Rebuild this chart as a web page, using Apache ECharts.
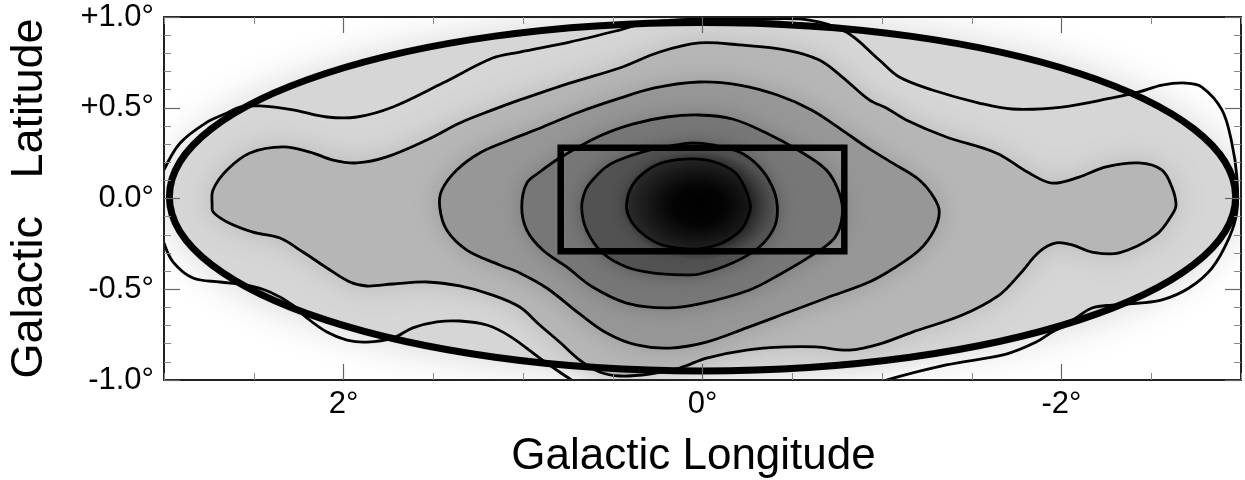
<!DOCTYPE html>
<html><head><meta charset="utf-8">
<script src="https://cdn.jsdelivr.net/npm/echarts@6/dist/echarts.min.js"></script>
<style>html,body{margin:0;padding:0;background:#fff}#chart{width:1245px;height:480px}</style>
</head><body><div id="chart"></div>
<script>
// ---------------- DATA (galactic longitude l, latitude b, degrees) ----------------
const xRange = [-3, 3];
const yRange = [-1, 1];
const xMajorTicks = [2, 0, -2];
const xTickLabels = ['2°', '0°', '-2°'];
const yMajorTicks = [1, 0.5, 0, -0.5, -1];
const yTickLabels = ['+1.0°', '+0.5°', '0.0°', '-0.5°', '-1.0°'];

const ellipseCenter = [0.0, 0.01];
const ellipseRadii = [2.97, 0.96];
const boxLon = [0.79, -0.79];
const boxLat = [0.28, -0.29];
const peakCenter = [0.02, -0.04];

const contour1 = [[0.423,-0.036],[0.390,0.074],[0.306,0.157],[0.211,0.201],[0.056,0.218],[-0.067,0.201],[-0.178,0.146],[-0.234,0.063],[-0.267,-0.047],[-0.234,-0.146],[-0.189,-0.196],[-0.095,-0.251],[0.017,-0.278],[0.128,-0.273],[0.239,-0.251],[0.339,-0.190],[0.401,-0.118]];
const contour2 = [[0.673,-0.047],[0.651,0.047],[0.612,0.102],[0.545,0.168],[0.479,0.207],[0.312,0.262],[0.145,0.295],[0.056,0.306],[-0.056,0.295],[-0.206,0.256],[-0.317,0.174],[-0.390,0.063],[-0.417,-0.047],[-0.401,-0.157],[-0.317,-0.267],[-0.167,-0.355],[0.017,-0.416],[0.111,-0.421],[0.278,-0.410],[0.423,-0.377],[0.556,-0.300],[0.646,-0.174]];
const contour3 = [[1.007,-0.047],[0.979,0.085],[0.907,0.146],[0.796,0.223],[0.573,0.344],[0.390,0.410],[0.200,0.449],[0.017,0.460],[-0.167,0.438],[-0.356,0.361],[-0.540,0.262],[-0.690,0.157],[-0.762,0.030],[-0.779,-0.091],[-0.735,-0.218],[-0.595,-0.322],[-0.445,-0.410],[-0.262,-0.504],[0.017,-0.581],[0.200,-0.603],[0.423,-0.576],[0.612,-0.488],[0.757,-0.377],[0.890,-0.284],[0.979,-0.174]];
const contour4 = [[1.464,-0.047],[1.452,0.047],[1.369,0.157],[1.241,0.251],[1.074,0.322],[0.890,0.394],[0.701,0.471],[0.490,0.543],[0.267,0.609],[0.017,0.642],[-0.206,0.625],[-0.417,0.570],[-0.607,0.488],[-0.762,0.388],[-0.913,0.284],[-1.057,0.196],[-1.208,0.102],[-1.291,0.003],[-1.319,-0.074],[-1.291,-0.174],[-1.208,-0.284],[-1.068,-0.383],[-0.929,-0.460],[-0.690,-0.548],[-0.467,-0.631],[-0.245,-0.713],[-0.022,-0.791],[0.184,-0.824],[0.367,-0.807],[0.534,-0.741],[0.684,-0.636],[0.868,-0.493],[1.018,-0.410],[1.130,-0.366],[1.313,-0.284],[1.425,-0.174]];
const contour5 = [[2.732,-0.036],[2.727,0.047],[2.649,0.157],[2.521,0.251],[2.337,0.284],[2.187,0.256],[2.059,0.212],[1.925,0.196],[1.759,0.229],[1.536,0.322],[1.352,0.416],[1.169,0.488],[1.018,0.543],[0.740,0.636],[0.462,0.719],[0.239,0.807],[0.017,0.857],[-0.206,0.846],[-0.467,0.818],[-0.651,0.763],[-0.779,0.669],[-0.929,0.543],[-1.024,0.499],[-1.135,0.433],[-1.358,0.339],[-1.636,0.251],[-1.820,0.140],[-1.948,0.085],[-2.098,0.118],[-2.248,0.174],[-2.432,0.196],[-2.560,0.157],[-2.615,0.063],[-2.638,-0.036],[-2.615,-0.091],[-2.526,-0.201],[-2.321,-0.300],[-2.170,-0.295],[-2.059,-0.256],[-1.970,-0.245],[-1.875,-0.295],[-1.764,-0.421],[-1.653,-0.532],[-1.447,-0.642],[-1.169,-0.736],[-0.985,-0.802],[-0.818,-0.835],[-0.634,-0.818],[-0.467,-0.818],[-0.245,-0.835],[-0.022,-0.879],[0.128,-0.934],[0.295,-0.967],[0.462,-0.978],[0.573,-0.956],[0.684,-0.890],[0.796,-0.791],[0.907,-0.697],[1.018,-0.598],[1.169,-0.532],[1.352,-0.482],[1.536,-0.460],[1.725,-0.471],[1.870,-0.482],[1.964,-0.460],[2.092,-0.383],[2.226,-0.295],[2.354,-0.218],[2.504,-0.185],[2.649,-0.129],[2.727,-0.074]];
const contour6a = [[3.0,0.157],[2.910,0.306],[2.760,0.421],[2.649,0.471],[2.577,0.504],[2.465,0.510],[2.282,0.488],[2.092,0.449],[1.925,0.449],[1.725,0.504],[1.447,0.636],[1.169,0.774],[1.018,0.807],[0.740,0.862],[0.462,0.928],[0.295,0.972],[0.017,0.989],[-0.317,0.989],[-0.595,0.983],[-0.801,0.917],[-0.985,0.763],[-1.096,0.669],[-1.280,0.598],[-1.541,0.526],[-1.725,0.493],[-2.003,0.504],[-2.282,0.554],[-2.432,0.587],[-2.560,0.625],[-2.693,0.636],[-2.782,0.614],[-2.894,0.488],[-2.949,0.306],[-2.977,0.118],[-2.977,-0.074],[-2.933,-0.218],[-2.838,-0.383],[-2.710,-0.493],[-2.560,-0.559],[-2.432,-0.576],[-2.282,-0.587],[-2.170,-0.603],[-2.081,-0.658],[-2.026,-0.697],[-1.948,-0.736],[-1.859,-0.791],[-1.692,-0.857],[-1.358,-0.917],[-1.024,-1.0]];
const contour6b = [[3.0,-0.245],[2.949,-0.350],[2.838,-0.438],[2.688,-0.460],[2.538,-0.477],[2.410,-0.515],[2.282,-0.587],[2.204,-0.658],[2.092,-0.736],[1.981,-0.780],[1.870,-0.791],[1.725,-0.769],[1.614,-0.713],[1.480,-0.680],[1.352,-0.675],[1.202,-0.697],[1.074,-0.758],[0.907,-0.879],[0.796,-0.956],[0.729,-1.0]];

// ---------------- STYLE ----------------
const FONT = '"Liberation Sans", Arial, Helvetica, sans-serif';
const SMOOTH = 0.35;

const chart = echarts.init(document.getElementById('chart'), null, {renderer: 'canvas'});

function base(z, firstPoint) {
  return {type: 'custom', coordinateSystem: 'cartesian2d', xAxisIndex: 0, yAxisIndex: 0,
          clip: true, silent: true, animation: false, z: z, data: [firstPoint]};
}
function pathLayer(points, closed, style, z) {
  const s = base(z, points[0]);
  s.renderItem = function (params, api) {
    return {type: closed ? 'polygon' : 'polyline',
            shape: {points: points.map(p => api.coord(p)), smooth: SMOOTH},
            style: style};
  };
  return s;
}
function ellipseLayer(center, radii, style, z) {
  const s = base(z, center);
  s.renderItem = function (params, api) {
    const c = api.coord(center);
    const sz = api.size([radii[0], radii[1]]);
    return {type: 'ellipse', shape: {cx: c[0], cy: c[1], rx: sz[0], ry: sz[1]}, style: style};
  };
  return s;
}
// elliptical radial glow: circle with radial gradient, stretched horizontally
function glowLayer(center, radii, stops, z) {
  const s = base(z, center);
  s.renderItem = function (params, api) {
    const c = api.coord(center);
    const sz = api.size([radii[0], radii[1]]);
    return {type: 'circle', x: c[0], y: c[1], scaleX: sz[0] / sz[1], scaleY: 1,
            shape: {cx: 0, cy: 0, r: sz[1]},
            style: {fill: new echarts.graphic.RadialGradient(0.5, 0.5, 0.5, stops)}};
  };
  return s;
}
function boxLayer(style, z) {
  const s = base(z, [boxLon[0], boxLat[0]]);
  s.renderItem = function (params, api) {
    const a = api.coord([boxLon[0], boxLat[0]]);
    const b = api.coord([boxLon[1], boxLat[1]]);
    return {type: 'rect', shape: {x: Math.min(a[0], b[0]), y: Math.min(a[1], b[1]),
            width: Math.abs(b[0] - a[0]), height: Math.abs(b[1] - a[1])}, style: style};
  };
  return s;
}

const fillLevels = [
  [contour5, '#b6b6b6', 30],
  [contour4, '#979797', 26],
  [contour3, '#777777', 22],
  [contour2, '#525252', 18],
  [contour1, '#2e2e2e', 16]
];

const series = [];
series.push(ellipseLayer(ellipseCenter, ellipseRadii, {fill: '#d6d6d6', shadowBlur: 44, shadowColor: '#cfcfcf'}, 1));
fillLevels.forEach((f, i) => {
  series.push(pathLayer(f[0], true, {fill: f[1], shadowBlur: f[2], shadowColor: f[1]}, 2 + i));
});
series.push(glowLayer(peakCenter, [0.42, 0.3], [
  {offset: 0, color: 'rgba(0,0,0,1)'},
  {offset: 0.35, color: 'rgba(0,0,0,0.92)'},
  {offset: 0.7, color: 'rgba(0,0,0,0.45)'},
  {offset: 1, color: 'rgba(0,0,0,0)'}
], 8));
const lineStyle = {fill: 'none', stroke: '#000', lineWidth: 2.8};
[contour1, contour2, contour3, contour4, contour5].forEach(c => series.push(pathLayer(c, true, lineStyle, 9)));
series.push(pathLayer(contour6a, false, lineStyle, 9));
series.push(pathLayer(contour6b, false, lineStyle, 9));
series.push(ellipseLayer(ellipseCenter, ellipseRadii, {fill: 'none', stroke: '#000', lineWidth: 7}, 10));
series.push(boxLayer({fill: 'none', stroke: '#000', lineWidth: 6.5}, 10));

const frame = {color: '#222', width: 2};
const minorTickStyle = {color: '#888', width: 1};
const majorTickStyle = {color: '#666', width: 1.2};
const labelStyle = {color: '#000', fontFamily: FONT, fontSize: 31};

function xLabel(v) { const i = xMajorTicks.indexOf(v); return i >= 0 ? xTickLabels[i] : ''; }
function yLabel(v) { const i = yMajorTicks.findIndex(t => Math.abs(t - v) < 1e-9); return i >= 0 ? yTickLabels[i] : ''; }

const gridBox = {left: 164, right: 4, top: 17, bottom: 100, containLabel: false, outerBoundsMode: 'none'};
const option = {
  animation: false,
  backgroundColor: '#fff',
  grid: [Object.assign({}, gridBox), Object.assign({}, gridBox)],
  xAxis: [
    {gridIndex: 0, type: 'value', position: 'bottom', min: xRange[0], max: xRange[1], inverse: true, interval: 0.5,
     axisLine: {show: true, onZero: false, lineStyle: frame},
     axisTick: {show: true, inside: true, length: 7, lineStyle: minorTickStyle},
     axisLabel: Object.assign({show: true, customValues: xMajorTicks, formatter: xLabel, margin: 9}, labelStyle),
     splitLine: {show: false},
     name: 'Galactic Longitude', nameLocation: 'middle', nameGap: 55,
     nameTextStyle: {color: '#000', fontFamily: FONT, fontSize: 44, padding: [0, 18, 0, 0]}, z: 20},
    {gridIndex: 0, type: 'value', position: 'top', min: xRange[0], max: xRange[1], inverse: true, interval: 0.5,
     axisLine: {show: true, onZero: false, lineStyle: frame},
     axisTick: {show: true, inside: true, length: 7, lineStyle: minorTickStyle},
     axisLabel: {show: false}, splitLine: {show: false}, z: 20},
    {gridIndex: 1, type: 'value', position: 'bottom', min: xRange[0], max: xRange[1], inverse: true,
     axisLine: {show: false, onZero: false},
     axisTick: {show: true, inside: true, length: 16, customValues: xMajorTicks, lineStyle: majorTickStyle},
     axisLabel: {show: false}, splitLine: {show: false}, z: 20},
    {gridIndex: 1, type: 'value', position: 'top', min: xRange[0], max: xRange[1], inverse: true,
     axisLine: {show: false, onZero: false},
     axisTick: {show: true, inside: true, length: 16, customValues: xMajorTicks, lineStyle: majorTickStyle},
     axisLabel: {show: false}, splitLine: {show: false}, z: 20}
  ],
  yAxis: [
    {gridIndex: 0, type: 'value', position: 'left', min: yRange[0], max: yRange[1], interval: 0.5,
     axisLine: {show: true, onZero: false, lineStyle: frame},
     axisTick: {show: true, inside: true, length: 16, lineStyle: majorTickStyle},
     minorTick: {show: true, splitNumber: 5, length: 7, lineStyle: minorTickStyle},
     axisLabel: Object.assign({show: true, formatter: yLabel, margin: 10}, labelStyle),
     splitLine: {show: false}, minorSplitLine: {show: false},
     name: 'Galactic   Latitude', nameLocation: 'middle', nameRotate: 90, nameGap: 112,
     nameTextStyle: {color: '#000', fontFamily: FONT, fontSize: 45}, z: 20},
    {gridIndex: 0, type: 'value', position: 'right', min: yRange[0], max: yRange[1], interval: 0.5,
     axisLine: {show: true, onZero: false, lineStyle: frame},
     axisTick: {show: true, inside: true, length: 16, lineStyle: majorTickStyle},
     minorTick: {show: true, splitNumber: 5, length: 7, lineStyle: minorTickStyle},
     axisLabel: {show: false}, splitLine: {show: false}, minorSplitLine: {show: false}, z: 20},
    {gridIndex: 1, type: 'value', show: false, min: yRange[0], max: yRange[1],
     axisLine: {show: false, onZero: false}}
  ],
  series: series
};
chart.setOption(option);
</script></body></html>
